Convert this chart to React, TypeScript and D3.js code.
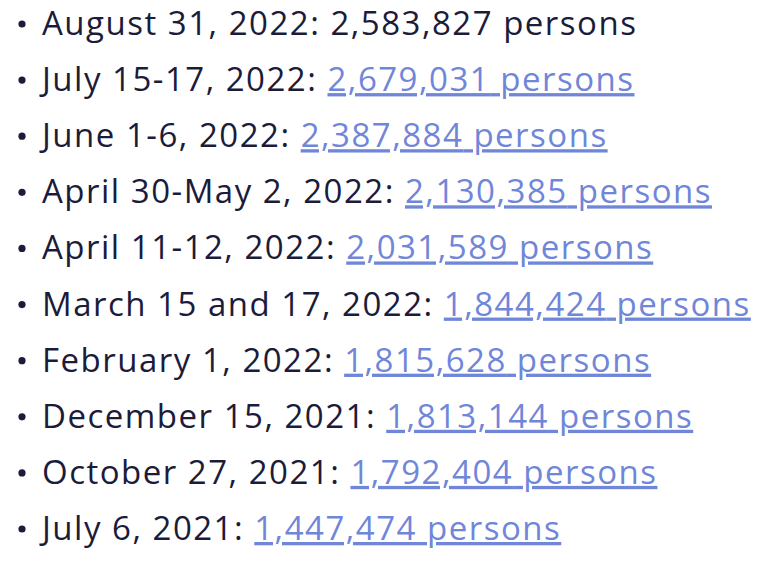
import * as d3 from 'd3';
import React from 'react';

const dates = [
  "August 31, 2022", "July 15-17, 2022", "June 1-6, 2022", "April 30-May 2, 2022",
  "April 11-12, 2022", "March 15 and 17, 2022", "February 1, 2022",
  "December 15, 2021", "October 27, 2021", "July 6, 2021",
];
const counts = [2583827, 2679031, 2387884, 2130385, 2031589, 1844424, 1815628, 1813144, 1792404, 1447474];
const linked = [false, true, true, true, true, true, true, true, true, true];

const W = 770, H = 564;

export default function App() {
  const y = d3.scalePoint<number>().domain(d3.range(dates.length)).range([35, 540]);
  const fmt = d3.format(",");
  return (
    <svg width={W} height={H} style={{position: "absolute", left: 0, top: 0, background: "#fff"}}
      fontFamily="'Open Sans', 'Noto Sans', sans-serif" fontSize={33} letterSpacing={1.5}>
      {dates.map((d, i) => (
        <g key={d} transform={`translate(0,${y(i)})`}>
          <circle cx={22} cy={-11} r={3.6} fill="#1b1b3a" />
          <text x={42} fill="#1b1b3a">
            {d}:{" "}
            <tspan fill={linked[i] ? "#6f86d9" : "#1b1b3a"}
              textDecoration={linked[i] ? "underline" : "none"}>
              {fmt(counts[i])} persons
            </tspan>
          </text>
        </g>
      ))}
    </svg>
  );
}
